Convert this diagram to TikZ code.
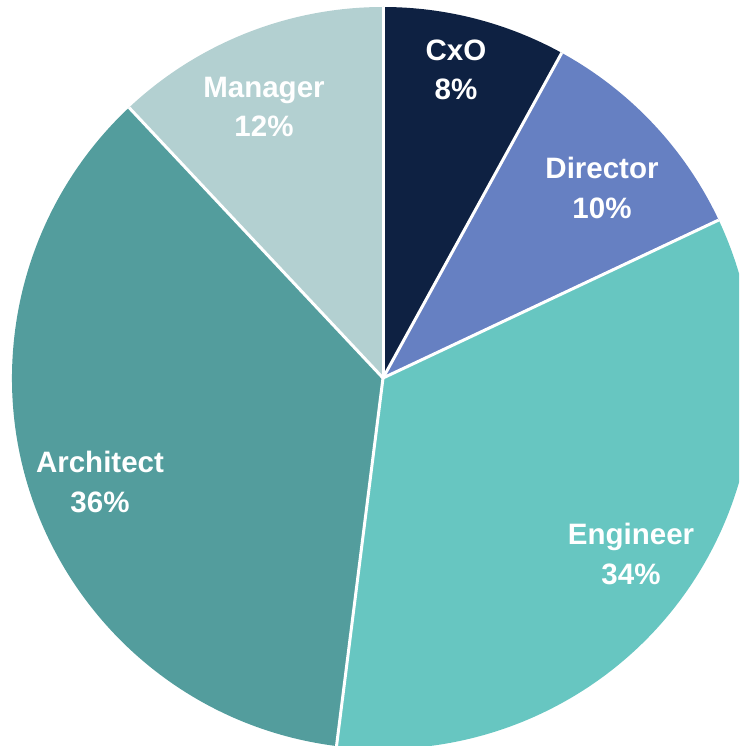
\documentclass[tikz,border=0pt]{standalone}
\usepackage{fontspec}
\setmainfont{Liberation Sans}
\definecolor{cxo}{HTML}{0E2142}
\definecolor{dir}{HTML}{6680C2}
\definecolor{eng}{HTML}{67C6C1}
\definecolor{arc}{HTML}{539D9D}
\definecolor{mgr}{HTML}{B3D0D1}
\tikzset{
  lbl/.style={text=white,font=\bfseries\fontsize{29.5}{39.5}\selectfont,align=center,inner sep=0pt},
  sep/.style={draw=white,line width=3pt}
}
\begin{document}
\begin{tikzpicture}[x=1pt,y=1pt]
\useasboundingbox (0,-746) rectangle (739,0);
\clip (0,-746) rectangle (739,0);
\coordinate (c) at (383,-378);
\def\R{371}
\fill[cxo] (c) -- ++(90:\R) arc[start angle=90,end angle=61.2,radius=\R] -- cycle;
\fill[dir] (c) -- ++(61.2:\R) arc[start angle=61.2,end angle=25.2,radius=\R] -- cycle;
\fill[eng] (c) -- ++(25.2:\R) arc[start angle=25.2,end angle=-97.2,radius=\R] -- cycle;
\fill[arc] (c) -- ++(-97.2:\R) arc[start angle=-97.2,end angle=-226.8,radius=\R] -- cycle;
\fill[mgr] (c) -- ++(133.2:\R) arc[start angle=133.2,end angle=90,radius=\R] -- cycle;
\foreach \a in {90,61.2,25.2,-97.2,133.2} \draw[sep] (c) -- ++(\a:\R);
\node[lbl] (lcxo) at (456,-70) {CxO\\8\%};
\node[lbl] (ldir) at (602,-188) {Director\\10\%};
\node[lbl] (leng) at (631,-554) {Engineer\\34\%};
\node[lbl] (larc) at (100,-482) {Architect\\36\%};
\node[lbl] (lmgr) at (264,-107) {Manager\\12\%};
\end{tikzpicture}
\end{document}
